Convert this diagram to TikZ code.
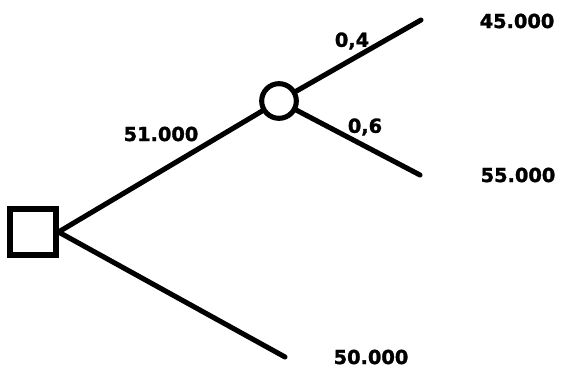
\documentclass[tikz,border=0pt]{standalone}
\usepackage{fontspec}
\newfontfamily\labelfont[FakeBold=1.5]{DejaVu Sans Bold}
\usepackage{tikz}

\begin{document}
\begin{tikzpicture}[x=0.75pt,y=-0.75pt,line width=3.8pt,
  every node/.style={font=\labelfont\fontsize{14.5}{16}\selectfont},
  decision/.style={draw,rectangle,minimum size=34.5pt,inner sep=0pt},
  chance/.style={draw,circle,minimum size=26pt,inner sep=0pt},
  branch/.style={line cap=round}]
\useasboundingbox (0,0) rectangle (563,370);
% knots
\node[decision] (dec) at (33,232) {};
\node[chance] (ch) at (279,101) {};
% end points
\coordinate (endA) at (421,20);
\coordinate (endB) at (420,175);
\coordinate (endC) at (285,357);
% branches
\draw[branch] (dec.east) -- (ch);
\draw[branch] (dec.east) -- (endC);
\draw[branch] (ch) -- (endA);
\draw[branch] (ch) -- (endB);
% labels
\node (p1) at (161,134) {51.000};
\node (p2) at (352,41) {0,4};
\node (p3) at (365,127) {0,6};
\node (v1) at (517,21) {45.000};
\node (v2) at (518,175) {55.000};
\node (v3) at (371,357) {50.000};
\end{tikzpicture}
\end{document}
